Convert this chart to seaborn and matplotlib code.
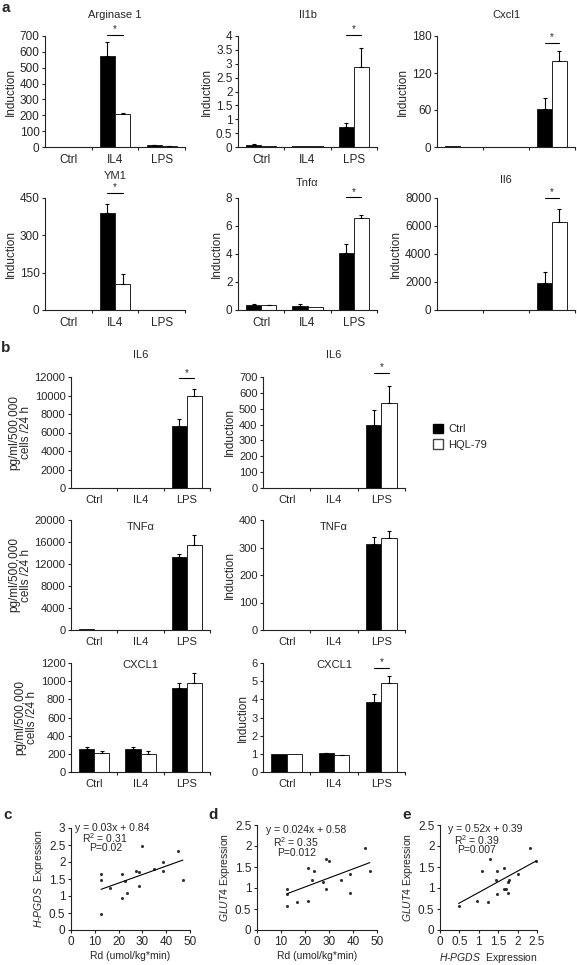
import numpy as np
import pandas as pd
import matplotlib
matplotlib.use('Agg')
import matplotlib.pyplot as plt
import matplotlib.patches as mpatches
from matplotlib.ticker import FuncFormatter
import seaborn as sns

conds = ['Ctrl', 'IL4', 'LPS']
groups = ['Ctrl', 'HQL-79']

# panel a: qPCR induction (black = Ctrl, white = HQL-79)
arg1_ctrl, arg1_hql = [1, 575, 12], [0.5, 205, 8]
arg1_ctrl_err, arg1_hql_err = [0, 85, 2], [0, 12, 1]
il1b_ctrl, il1b_hql = [0.09, 0.02, 0.73], [0.04, 0.03, 2.87]
il1b_ctrl_err, il1b_hql_err = [0.02, 0, 0.12], [0, 0, 0.7]
cxcl1_ctrl, cxcl1_hql = [1.5, 0.3, 62], [0.8, 0.2, 140]
cxcl1_ctrl_err, cxcl1_hql_err = [0, 0, 17], [0, 0, 15]
ym1_ctrl, ym1_hql = [2, 390, 0.5], [0.5, 105, 0.3]
ym1_ctrl_err, ym1_hql_err = [0, 35, 0], [0, 38, 0]
tnfa_ctrl, tnfa_hql = [0.38, 0.3, 4.1], [0.35, 0.18, 6.55]
tnfa_ctrl_err, tnfa_hql_err = [0.03, 0.1, 0.6], [0.03, 0, 0.25]
il6_ctrl, il6_hql = [0, 0, 1900], [0, 0, 6280]
il6_ctrl_err, il6_hql_err = [0, 0, 800], [0, 0, 950]

# panel b: secreted protein (pg/ml) and induction
il6pg_ctrl, il6pg_hql = [20, 30, 6750], [10, 40, 9900]
il6pg_ctrl_err, il6pg_hql_err = [0, 0, 690], [0, 0, 800]
il6ind_ctrl, il6ind_hql = [1, 1, 397], [1, 2, 539]
il6ind_ctrl_err, il6ind_hql_err = [0, 0, 96], [0, 0, 106]
tnfpg_ctrl, tnfpg_hql = [100, 20, 13300], [50, 20, 15450]
tnfpg_ctrl_err, tnfpg_hql_err = [0, 0, 500], [0, 0, 1800]
tnfind_ctrl, tnfind_hql = [1, 0.5, 313], [0.5, 0.3, 335]
tnfind_ctrl_err, tnfind_hql_err = [0, 0, 26], [0, 0, 26]
cxpg_ctrl, cxpg_hql = [250, 257, 930], [212, 198, 985]
cxpg_ctrl_err, cxpg_hql_err = [25, 18, 55], [22, 30, 100]
cxind_ctrl, cxind_hql = [1.0, 1.03, 3.87], [1.0, 0.92, 4.88]
cxind_ctrl_err, cxind_hql_err = [0, 0.03, 0.4], [0, 0.01, 0.4]

# panels c-e: per-subject values
rd = [12.6, 12.6, 12.6, 16.5, 21.3, 21.3, 22.8, 23.6, 27.5, 28.6, 28.7,
      30.0, 35.0, 38.8, 38.8, 45.0, 47.0]
hpgds = [1.66, 1.47, 0.48, 1.24, 1.65, 0.95, 1.45, 1.08, 1.74, 1.30, 1.71,
         2.48, 1.79, 2.00, 1.74, 2.33, 1.47]
glut4 = [0.97, 0.85, 0.57, 0.66, 1.48, 0.69, 1.19, 1.40, 1.15, 1.70, 0.97,
         1.65, 1.20, 1.33, 0.89, 1.95, 1.40]

sns.set_style('ticks')
plt.rcParams['font.family'] = ['Liberation Sans', 'DejaVu Sans']
plt.rcParams['font.size'] = 8
plt.rcParams['mathtext.fontset'] = 'custom'
plt.rcParams['mathtext.rm'] = 'Liberation Sans'
plt.rcParams['mathtext.it'] = 'Liberation Sans:italic'

W, H = 577, 965
fig = plt.figure(figsize=(W / 100, H / 100), dpi=100)
fmt = FuncFormatter(lambda v, p: '{:g}'.format(v))


def add_ax(l, t, r, b):
    return fig.add_axes([l / W, 1 - b / H, (r - l) / W, (b - t) / H])


def style_ax(ax, tick_size=8.5):
    sns.despine(ax=ax)
    for s in ['left', 'bottom']:
        ax.spines[s].set_linewidth(0.8)
        ax.spines[s].set_color('#222222')
    ax.tick_params(axis='y', length=2.5, width=0.8, pad=1.5, labelsize=tick_size)
    ax.yaxis.set_major_formatter(fmt)


def bar_panel(rect, title, title_y, ylabel, ylim, yticks, ctrl, hql,
              ctrl_err, hql_err, sig=None, sig_y=None, xlabels=True, tick_size=8.5):
    ax = add_ax(*rect)
    df = pd.DataFrame({'cond': conds * 2,
                       'group': [groups[0]] * 3 + [groups[1]] * 3,
                       'value': ctrl + hql})
    sns.barplot(data=df, x='cond', y='value', hue='group', order=conds,
                hue_order=groups, palette=['black', 'white'], saturation=1,
                edgecolor='#222222', linewidth=0.7, width=0.65,
                errorbar=None, legend=False, ax=ax)
    centers = []
    for cont, means, errs in zip(ax.containers, [ctrl, hql], [ctrl_err, hql_err]):
        xs = np.array([b.get_x() + b.get_width() / 2 for b in cont])
        centers.append(xs)
        m = np.array(errs) > 0
        if m.any():
            ax.errorbar(xs[m], np.array(means)[m],
                        yerr=[np.zeros(m.sum()), np.array(errs)[m]],
                        fmt='none', ecolor='black', elinewidth=0.8,
                        capsize=1.5, capthick=0.8)
    ax.set_xlim(-0.5, 2.5)
    ax.set_ylim(*ylim)
    ax.set_yticks(yticks)
    ax.set_xticks([0, 1, 2])
    ax.set_xticklabels(conds if xlabels else ['', '', ''])
    ax.set_xticks([0.5, 1.5, 2.5], minor=True)
    ax.tick_params(axis='x', which='major', length=0, pad=5, labelsize=tick_size)
    ax.tick_params(axis='x', which='minor', length=2.5, width=0.8)
    ax.set_xlabel('')
    ax.set_ylabel(ylabel, labelpad=2, fontsize=8.5, linespacing=1.0)
    style_ax(ax, tick_size)
    hpx = rect[3] - rect[1]
    ax.text(0.5, 1 + (rect[1] - title_y) / hpx, title, transform=ax.transAxes,
            ha='center', va='center', fontsize=8)
    if sig is not None:
        x0, x1 = centers[0][sig], centers[1][sig]
        ax.plot([x0, x1], [sig_y, sig_y], color='black', lw=0.8, clip_on=False)
        ax.annotate('*', xy=((x0 + x1) / 2, sig_y), xytext=(0, 0.5),
                    textcoords='offset points', ha='center', va='bottom',
                    fontsize=7, annotation_clip=False)
    return ax


# panel a
bar_panel((45, 36, 185, 147), 'Arginase 1', 15, 'Induction', (0, 700),
          range(0, 701, 100), arg1_ctrl, arg1_hql, arg1_ctrl_err, arg1_hql_err, 1, 705)
bar_panel((238, 36, 377, 147), 'Il1b', 15, 'Induction', (0, 4),
          np.arange(0, 4.01, 0.5), il1b_ctrl, il1b_hql, il1b_ctrl_err, il1b_hql_err, 2, 4.05)
bar_panel((437, 36, 575, 147), 'Cxcl1', 15, 'Induction', (0, 180),
          [0, 60, 120, 180], cxcl1_ctrl, cxcl1_hql, cxcl1_ctrl_err, cxcl1_hql_err, 2, 169,
          xlabels=False)
bar_panel((45, 198, 185, 310), 'YM1', 176, 'Induction', (0, 450),
          [0, 150, 300, 450], ym1_ctrl, ym1_hql, ym1_ctrl_err, ym1_hql_err, 1, 470)
bar_panel((238, 198, 377, 310), 'Tnf\u03b1', 183, 'Induction', (0, 8),
          [0, 2, 4, 6, 8], tnfa_ctrl, tnfa_hql, tnfa_ctrl_err, tnfa_hql_err, 2, 8.05)
bar_panel((437, 198, 575, 310), 'Il6', 180, 'Induction', (0, 8000),
          range(0, 8001, 2000), il6_ctrl, il6_hql, il6_ctrl_err, il6_hql_err, 2, 8000,
          xlabels=False)

# panel b
pg_label = 'pg/ml/500,000\ncells /24 h'
bar_panel((71, 377, 210, 488), 'IL6', 355, pg_label, (0, 12000),
          range(0, 12001, 2000), il6pg_ctrl, il6pg_hql, il6pg_ctrl_err, il6pg_hql_err, 2, 11850,
          tick_size=8)
bar_panel((263, 377, 405, 488), 'IL6', 355, 'Induction', (0, 700),
          range(0, 701, 100), il6ind_ctrl, il6ind_hql, il6ind_ctrl_err, il6ind_hql_err, 2, 728,
          tick_size=8)
bar_panel((71, 520, 210, 630), 'TNF\u03b1', 527, pg_label, (0, 20000),
          range(0, 20001, 4000), tnfpg_ctrl, tnfpg_hql, tnfpg_ctrl_err, tnfpg_hql_err,
          tick_size=8)
bar_panel((263, 520, 405, 630), 'TNF\u03b1', 527, 'Induction', (0, 400),
          range(0, 401, 100), tnfind_ctrl, tnfind_hql, tnfind_ctrl_err, tnfind_hql_err,
          tick_size=8)
bar_panel((71, 663, 210, 772), 'CXCL1', 665, pg_label, (0, 1200),
          range(0, 1201, 200), cxpg_ctrl, cxpg_hql, cxpg_ctrl_err, cxpg_hql_err,
          tick_size=8)
bar_panel((263, 663, 405, 772), 'CXCL1', 665, 'Induction', (0, 6),
          range(0, 7), cxind_ctrl, cxind_hql, cxind_ctrl_err, cxind_hql_err, 2, 5.72,
          tick_size=8)

handles = [mpatches.Patch(facecolor='black', edgecolor='black', label='Ctrl'),
           mpatches.Patch(facecolor='white', edgecolor='#444444', label='HQL-79')]
fig.legend(handles=handles, loc='upper left', bbox_to_anchor=(433 / W, 1 - 424 / H),
           frameon=False, handlelength=0.9, handleheight=0.9, handletextpad=0.5,
           labelspacing=0.45, fontsize=8, borderaxespad=0, borderpad=0)


def scatter_panel(rect, x, y, xlim, xticks, ylim, yticks, xlabel, ylabel, notes):
    ax = add_ax(*rect)
    sns.regplot(x=np.array(x), y=np.array(y), ci=None, color='black',
                scatter_kws={'s': 5, 'linewidths': 0, 'clip_on': False},
                line_kws={'lw': 0.8}, ax=ax)
    ax.set_xlim(*xlim)
    ax.set_ylim(*ylim)
    ax.set_xticks(xticks)
    ax.set_yticks(yticks)
    ax.xaxis.set_major_formatter(fmt)
    ax.tick_params(axis='x', length=2.5, width=0.8, pad=2, labelsize=8.5)
    ax.set_xlabel(xlabel, fontsize=7.5, labelpad=2)
    ax.set_ylabel(ylabel, fontsize=7.5, labelpad=2)
    style_ax(ax, 8.5)
    for tx, ty, s in notes:
        ax.text(tx, ty, s, transform=ax.transAxes, ha='center', va='center', fontsize=7.5)
    return ax


hp_label = r'$\mathit{H}$-$\mathit{PGDS}$  Expression'
gl_label = r'$\mathit{GLUT4}$ Expression'
rd_label = 'Rd (umol/kg*min)'

scatter_panel((71, 828, 190, 930), rd, hpgds, (0, 50), range(0, 51, 10),
              (0, 3), np.arange(0, 3.01, 0.5), rd_label, hp_label,
              [(0.345, 1.0, 'y = 0.03x + 0.84'), (0.28, 0.90, 'R$^2$ = 0.31'),
               (0.29, 0.80, 'P=0.02')])
scatter_panel((257, 825, 377, 930), rd, glut4, (0, 50), range(0, 51, 10),
              (0, 2.5), np.arange(0, 2.51, 0.5), rd_label, gl_label,
              [(0.41, 0.95, 'y = 0.024x + 0.58'), (0.32, 0.84, 'R$^2$ = 0.35'),
               (0.33, 0.73, 'P=0.012')])
scatter_panel((440, 825, 537, 930), hpgds, glut4, (0, 2.5), np.arange(0, 2.51, 0.5),
              (0, 2.5), np.arange(0, 2.51, 0.5), hp_label, gl_label,
              [(0.47, 0.96, 'y = 0.52x + 0.39'), (0.38, 0.86, 'R$^2$ = 0.39'),
               (0.38, 0.76, 'P=0.007')])

for s, x, y in [('a', 6, 8), ('b', 6, 348), ('c', 8, 815), ('d', 213, 815), ('e', 407, 815)]:
    fig.text(x / W, 1 - y / H, s, fontsize=11, fontweight='bold', ha='center', va='center')

fig.savefig('out.png', dpi=100)
